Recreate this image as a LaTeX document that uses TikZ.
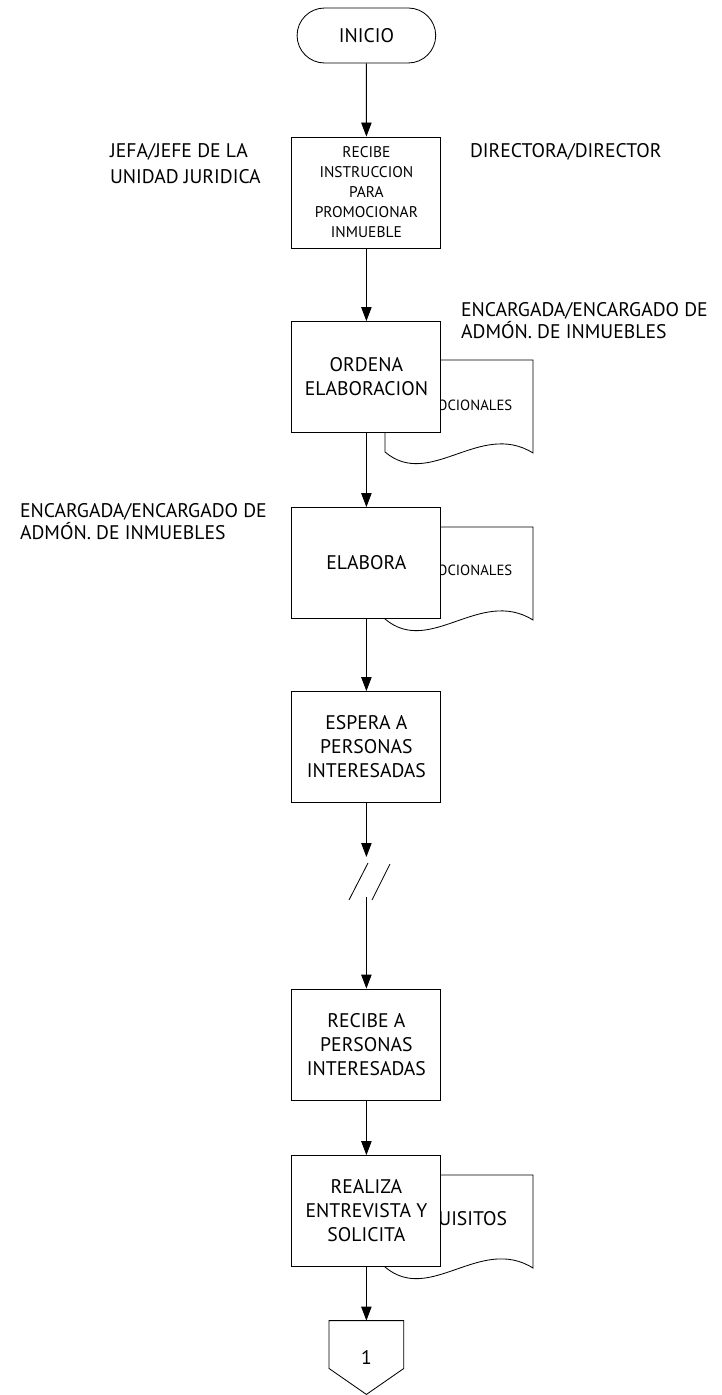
\documentclass[tikz,border=0pt]{standalone}
\usepackage{fontspec}
\setmainfont{PT Sans}
\usepackage{tikz}
\usetikzlibrary{shapes, shapes.misc, arrows.meta, calc}

\begin{document}
\begin{tikzpicture}[line width=0.6pt,
	paso/.style={rectangle, draw, fill=white, minimum width=3.725cm, minimum height=2.775cm, align=center, font=\fontsize{14}{17}\selectfont},
	flecha/.style={-{Triangle[length=0.35cm, width=0.26cm]}},
	etiqueta/.style={anchor=west, align=left, font=\fontsize{14}{15.5}\selectfont}]
		\useasboundingbox (0,0) rectangle (18.05,-34.875);
		% documentos
		\draw (9.625,-11.3) -- (9.625,-9.0) -- (13.325,-9.0) -- (13.325,-11.325) .. controls (12.0,-10.5) and (10.75,-12.25) .. (9.625,-11.3);
		\node at (10.925,-10.125) [anchor=west, inner sep=0pt, font=\fontsize{10.5}{12}\selectfont] (doc1) {OCIONALES};
		\draw (9.625,-15.475) -- (9.625,-13.175) -- (13.325,-13.175) -- (13.325,-15.5) .. controls (12.0,-14.675) and (10.75,-16.425) .. (9.625,-15.475);
		\node at (10.925,-14.25) [anchor=west, inner sep=0pt, font=\fontsize{10.5}{12}\selectfont] (doc2) {OCIONALES};
		\draw (9.625,-31.675) -- (9.625,-29.375) -- (13.325,-29.375) -- (13.325,-31.7) .. controls (12.0,-30.875) and (10.75,-32.625) .. (9.625,-31.675);
		\node at (10.95,-30.475) [anchor=west, inner sep=0pt, font=\fontsize{14}{17}\selectfont] (doc3) {UISITOS};
		% pasos
		\node at (9.16,-0.8875) [rounded rectangle, draw, minimum width=3.7cm, minimum height=1.375cm, font=\fontsize{14}{17}\selectfont] (inicio) {INICIO};
		\node at (9.16,-4.8125) [paso, font=\fontsize{11}{14.2}\selectfont] (recibe) {RECIBE\\INSTRUCCION\\PARA\\PROMOCIONAR\\INMUEBLE};
		\node at (9.16,-9.425) [paso] (ordena) {ORDENA\\ELABORACION};
		\node at (9.16,-14.075) [paso] (elabora) {ELABORA};
		\node at (9.16,-18.675) [paso] (espera) {ESPERA A\\PERSONAS\\INTERESADAS};
		\node at (9.16,-26.1125) [paso] (recibeint) {RECIBE A\\PERSONAS\\INTERESADAS};
		\node at (9.16,-30.275) [paso] (entrevista) {REALIZA\\ENTREVISTA Y\\SOLICITA};
		\node at (9.16,-33.9375) [rectangle, minimum width=1.85cm, minimum height=1.825cm, font=\fontsize{14}{17}\selectfont] (conector) {1};
		\draw (conector.north west) -- (conector.north east) -- ($(conector.south east)+(0,0.65)$) -- (conector.south) -- ($(conector.south west)+(0,0.65)$) -- cycle;
		% responsables
		\node at (2.625,-4.1) [etiqueta, font=\fontsize{14}{18.5}\selectfont] (jefa) {JEFA/JEFE DE LA\\UNIDAD JURIDICA};
		\node at (11.625,-3.8) [etiqueta] (directora) {DIRECTORA/DIRECTOR};
		\node at (11.4,-8.025) [etiqueta] (encargada1) {ENCARGADA/ENCARGADO DE\\ADMÓN. DE INMUEBLES};
		\node at (0.375,-13.05) [etiqueta] (encargada2) {ENCARGADA/ENCARGADO DE\\ADMÓN. DE INMUEBLES};
		% conexiones
		\coordinate (corteA) at (9.16,-21.425);
		\coordinate (corteB) at (9.16,-22.425);
		\draw[flecha] (inicio) -- (recibe);
		\draw[flecha] (recibe) -- (ordena);
		\draw[flecha] (ordena) -- (elabora);
		\draw[flecha] (elabora) -- (espera);
		\draw[flecha] (espera) -- (corteA);
		\draw (8.725,-22.5) -- (9.2,-21.575);
		\draw (9.3,-22.5) -- (9.75,-21.6);
		\draw[flecha] (corteB) -- (recibeint);
		\draw[flecha] (recibeint) -- (entrevista);
		\draw[flecha] (entrevista) -- (conector);
\end{tikzpicture}
\end{document}
